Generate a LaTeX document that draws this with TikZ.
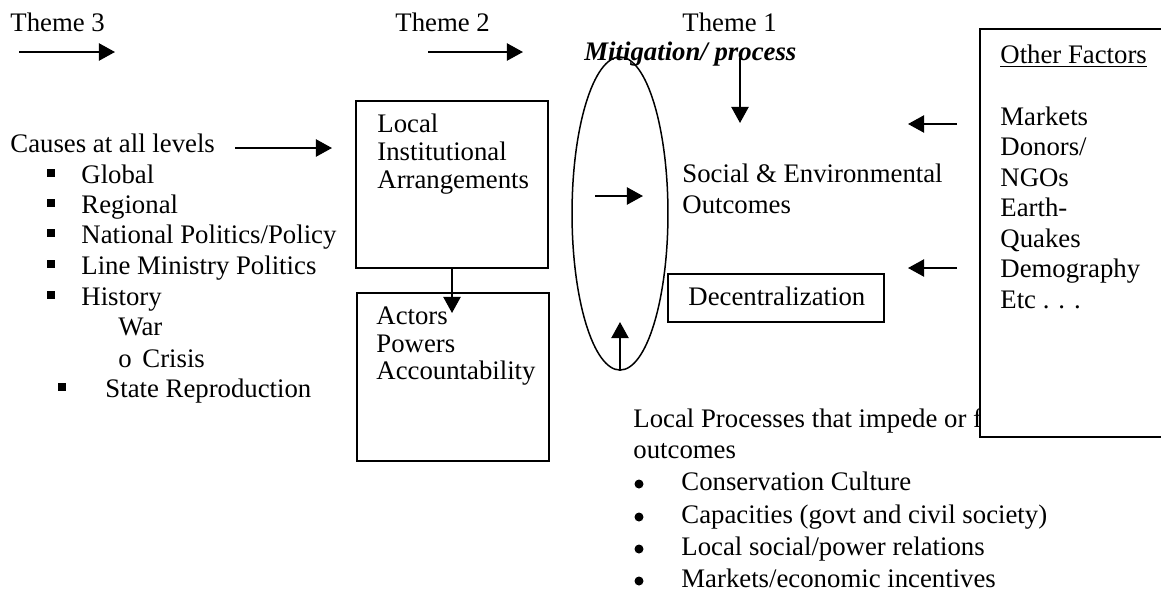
\documentclass[tikz,border=0pt]{standalone}
\usepackage{fontspec}
\setmainfont{Liberation Serif}
\usetikzlibrary{arrows.meta,shapes.geometric}
\begin{document}
\begin{tikzpicture}[x=0.467pt,y=-0.467pt,
  txt/.style={anchor=base west, inner sep=0pt, font=\fontsize{12.5}{14}\selectfont},
  arr/.style={line width=0.9pt, -{Triangle[length=7.5pt,width=8pt]}},
  box/.style={draw, line width=0.9pt, anchor=north west, inner sep=0pt, fill=white},
  sq/.style={fill, inner sep=0pt, minimum size=3.8pt},
  dot/.style={circle, fill, inner sep=0pt, minimum size=4.2pt}]
\useasboundingbox (0,0) rectangle (1161,592);

% Theme headers
\node[txt] (t3) at (10,31) {Theme 3};
\node[txt] (t2) at (395,31) {Theme 2};
\node[txt] (t1) at (682,31) {Theme 1};
\node[txt, font=\fontsize{12.5}{14}\selectfont\bfseries\itshape] (mit) at (584,60) {Mitigation/ process};

\coordinate (a3s) at (19,52);  \coordinate (a3e) at (115,52);
\coordinate (a2s) at (428,52); \coordinate (a2e) at (523,52);
\draw[arr] (a3s) -- (a3e);
\draw[arr] (a2s) -- (a2e);

% Causes list
\node[txt] (causes) at (10,152) {Causes at all levels};
\coordinate (cas) at (235,148); \coordinate (cae) at (332,148);
\draw[arr] (cas) -- (cae);

\node[sq] (b1) at (51,173) {}; \node[txt] (l1) at (81,183) {Global};
\node[sq] (b2) at (51,203) {}; \node[txt] (l2) at (81,213) {Regional};
\node[sq] (b3) at (51,233) {}; \node[txt] (l3) at (81,243) {National Politics/Policy};
\node[sq] (b4) at (51,264) {}; \node[txt] (l4) at (81,274) {Line Ministry Politics};
\node[sq] (b5) at (51,295) {}; \node[txt] (l5) at (81,305) {History};
\node[txt] (l6) at (118,335) {War};
\node[txt] (o7) at (118,367) {o};
\node[txt] (l7) at (142,367) {Crisis};
\node[sq] (b8) at (62,387) {}; \node[txt] (l8) at (105,397) {State Reproduction};

% Theme 2 boxes
\node[box, minimum width=89.7pt, minimum height=78pt] (lia) at (355,100) {};
\node[txt] (lia1) at (377,132) {Local};
\node[txt] (lia2) at (377,160) {Institutional};
\node[txt] (lia3) at (377,188) {Arrangements};

\node[box, minimum width=89.7pt, minimum height=78.5pt] (act) at (356,292) {};
\node[txt] (act1) at (376,324) {Actors};
\node[txt] (act2) at (376,352) {Powers};
\node[txt] (act3) at (376,379) {Accountability};

\coordinate (bas) at (452,267); \coordinate (bae) at (452,313);
\draw[arr] (bas) -- (bae);

% Ellipse
\node[draw, ellipse, line width=0.7pt, inner sep=0pt, minimum width=44.8pt, minimum height=146.2pt] (ell) at (620,213.5) {};
\coordinate (eas) at (595,196); \coordinate (eae) at (643,196);
\draw[arr] (eas) -- (eae);
\coordinate (eue) at (620,322);
\draw[arr] (ell.south) -- (eue);

% Theme 1
\coordinate (mds) at (740,58); \coordinate (mde) at (740,123);
\draw[arr] (mds) -- (mde);
\node[txt] (so1) at (682,182) {Social \& Environmental};
\node[txt] (so2) at (682,213) {Outcomes};

\node[box, minimum width=100.9pt, minimum height=22.4pt] (dec) at (667,273) {};
\node[txt] (dect) at (688,305) {Decentralization};

% Local processes
\node[txt] (lp1) at (633,427) {Local Processes that impede or f};
\node[txt] (lp2) at (633,458) {outcomes};
\node[dot] (d1) at (639,484) {}; \node[txt] (p1) at (681,490) {Conservation Culture};
\node[dot] (d2) at (639,517) {}; \node[txt] (p2) at (681,523) {Capacities (govt and civil society)};
\node[dot] (d3) at (639,549) {}; \node[txt] (p3) at (681,555) {Local social/power relations};
\node[dot] (d4) at (639,581) {}; \node[txt] (p4) at (681,587) {Markets/economic incentives};

% Other factors
\begin{scope}
\clip (0,0) rectangle (1161,592);
\node[box, minimum width=91.5pt, minimum height=190.5pt] (oth) at (979,28) {};
\end{scope}
\node[txt] (of0) at (1000,63) {\underline{Other Factors}};
\node[txt] (of1) at (1000,125) {Markets};
\node[txt] (of2) at (1000,155.5) {Donors/};
\node[txt] (of3) at (1000,186) {NGOs};
\node[txt] (of4) at (1000,216.5) {Earth-};
\node[txt] (of5) at (1000,247) {Quakes};
\node[txt] (of6) at (1000,277.5) {Demography};
\node[txt] (of7) at (1000,308) {Etc . . .};

\coordinate (m1s) at (957,124); \coordinate (m1e) at (908,124);
\coordinate (m2s) at (957,268); \coordinate (m2e) at (908,268);
\draw[arr] (m1s) -- (m1e);
\draw[arr] (m2s) -- (m2e);
\end{tikzpicture}
\end{document}
